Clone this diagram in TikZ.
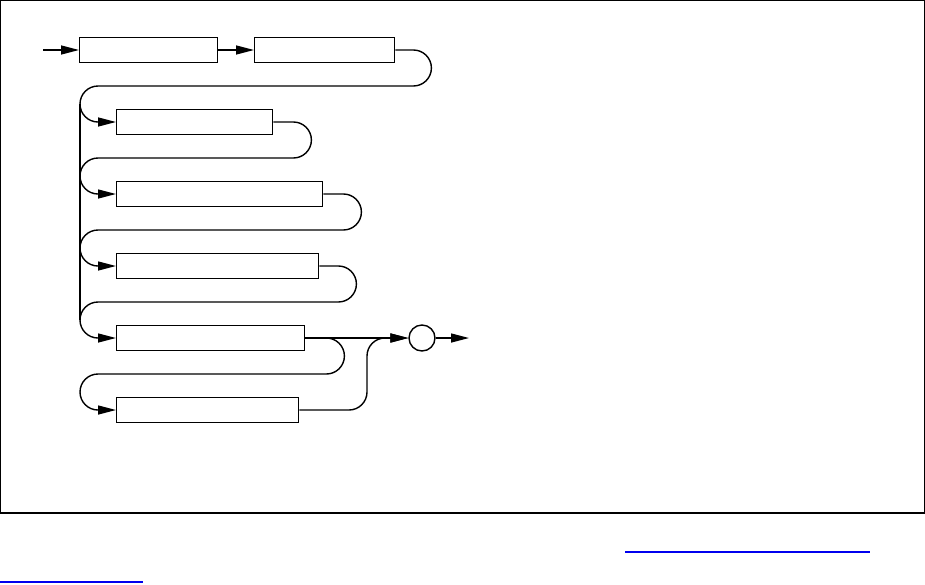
\documentclass[tikz,border=0pt]{standalone}
\usepackage{xcolor}
\usepackage{tikz}
\usetikzlibrary{arrows.meta,positioning}
\definecolor{C_link}{RGB}{0,0,238}

\begin{document}
\begin{tikzpicture}[
    x=1pt, y=1pt,
    box/.style={draw, rectangle, fill=white, anchor=west, minimum height=25pt, inner sep=0pt, line width=1.4pt},
    junc/.style={draw, circle, fill=white, minimum size=26pt, inner sep=0pt, line width=1.4pt},
    wire/.style={line width=1.4pt, rounded corners=18pt},
    flow/.style={wire, -{Triangle[length=18pt, width=9pt]}},
]
\useasboundingbox (0,0) rectangle (925,-584);
% Frame (pixel grid, y downwards)
\draw[line width=1.3pt] (0.7,-0.7) rectangle (924.3,-513);

% Row 1 boxes
\node[box, minimum width=138pt] (b1) at (79,-50) {};
\node[box, minimum width=140pt] (b2) at (254,-50) {};

% Stacked boxes
\node[box, minimum width=156pt] (b3) at (116,-122) {};
\node[box, minimum width=206pt] (b4) at (116,-194) {};
\node[box, minimum width=202pt] (b5) at (116,-266) {};
\node[box, minimum width=188pt] (b6) at (116,-338) {};
\node[box, minimum width=182pt] (b7) at (116,-410) {};

% Junction and free ends
\node[junc] (j) at (422,-338) {};
\coordinate (entry) at (43,-50);
\coordinate (exit) at (469,-338);
\coordinate (spinetop) at (80,-104);
\coordinate (spinebot) at (80,-320);

% Left spine
\draw[wire] (spinetop) -- (spinebot);

% Connectors
\draw[flow] (entry) -- (b1.west);
\draw[flow] (b1.east) -- (b2.west);
\draw[flow] (b2.east) -- ++(36,0) |- (80,-86) |- (b3.west);
\draw[flow] (b3.east) -- ++(38,0) |- (80,-158) |- (b4.west);
\draw[flow] (b4.east) -- ++(38,0) |- (80,-230) |- (b5.west);
\draw[flow] (b5.east) -- ++(37,0) |- (80,-302) |- (b6.west);
\draw[flow] (b6.east) -- ++(39,0) |- (80,-374) |- (b7.west);
\draw[flow] (b6.east) -- (j.west);
\draw[flow] (b7.east) -| (367,-338) -- (j.west);
\draw[flow] (j.east) -- (exit);

% Link underlines
\draw[C_link, line width=1.2pt] (625,-552) -- (870,-552);
\draw[C_link, line width=1.2pt] (0,-582) -- (143,-582);
\end{tikzpicture}
\end{document}
